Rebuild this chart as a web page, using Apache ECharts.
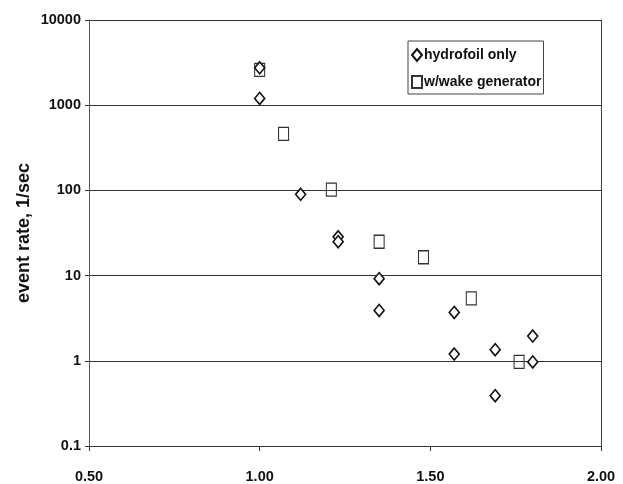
<!DOCTYPE html>
<html>
<head>
<meta charset="utf-8">
<script src="https://cdn.jsdelivr.net/npm/echarts@6/dist/echarts.min.js"></script>
<style>
  html, body { margin: 0; padding: 0; background: #fff; }
  #chart { width: 623px; height: 484px; }
</style>
</head>
<body>
<div id="chart"></div>
<script>
// Event rate measurements (x: ratio, y: events per second)
const hydrofoilX = [1.00, 1.00, 1.12, 1.23, 1.23, 1.35, 1.35, 1.57, 1.57, 1.69, 1.69, 1.80, 1.80];
const hydrofoilY = [2750, 1200, 90, 28.5, 25, 9.2, 3.9, 3.7, 1.2, 1.35, 0.39, 1.95, 0.97];

const wakeX = [1.00, 1.07, 1.21, 1.35, 1.48, 1.62, 1.76];
const wakeY = [2600, 460, 102, 25, 16.4, 5.4, 0.97];

const seriesNames = ['hydrofoil only', 'w/wake generator'];
const xTicks = [0.5, 1.0, 1.5, 2.0];
const yTicks = [0.1, 1, 10, 100, 1000, 10000];

const pairs = (xs, ys) => xs.map((x, i) => [x, ys[i]]);

const tickFont = {
  fontFamily: '"Liberation Sans", Arial, sans-serif',
  fontWeight: 'bold',
  fontSize: 14.5,
  color: '#111'
};

const chart = echarts.init(document.getElementById('chart'), null, { renderer: 'canvas' });

chart.setOption({
  backgroundColor: '#fff',
  animation: false,
  grid: { left: 89, right: 22, top: 20, bottom: 38, show: false },
  legend: {
    orient: 'vertical',
    left: 408,
    top: 41,
    padding: [7, 2, 5, 3],
    itemGap: 13,
    itemWidth: 10,
    itemHeight: 12,
    borderColor: '#444',
    borderWidth: 1,
    textStyle: {
      fontFamily: '"Liberation Sans", Arial, sans-serif',
      fontWeight: 'bold',
      fontSize: 14,
      lineHeight: 14,
      color: '#111',
      padding: [0, 0, 0, -3]
    },
    data: seriesNames
  },
  xAxis: {
    type: 'value',
    min: xTicks[0],
    max: xTicks[xTicks.length - 1],
    interval: 0.5,
    axisLine: { show: true, onZero: false, lineStyle: { color: '#333', width: 1 } },
    axisTick: { show: true, length: 5, lineStyle: { color: '#333' } },
    splitLine: { show: false },
    axisLabel: Object.assign({ margin: 23, formatter: v => v.toFixed(2) }, tickFont)
  },
  yAxis: [{
    type: 'log',
    logBase: 10,
    min: yTicks[0],
    max: yTicks[yTicks.length - 1],
    name: 'event rate, 1/sec',
    nameLocation: 'middle',
    nameGap: 56,
    nameMoveOverlap: false,
    nameTextStyle: {
      fontFamily: '"Liberation Sans", Arial, sans-serif',
      fontWeight: 'bold',
      fontSize: 18,
      color: '#111'
    },
    axisLine: { show: true, lineStyle: { color: '#555', width: 1 } },
    axisTick: { show: true, length: 4, lineStyle: { color: '#333' } },
    splitLine: { show: true, lineStyle: { color: '#333', width: 1 } },
    axisLabel: Object.assign({
      margin: 8,
      formatter: v => {
        const t = yTicks.find(k => Math.abs(Math.log10(k) - Math.log10(v)) < 1e-6);
        return t === undefined ? '' : String(t);
      }
    }, tickFont)
  }, {
    // right-hand frame edge
    type: 'log',
    logBase: 10,
    min: yTicks[0],
    max: yTicks[yTicks.length - 1],
    position: 'right',
    axisLine: { show: true, lineStyle: { color: '#444', width: 1 } },
    axisTick: { show: false },
    axisLabel: { show: false },
    splitLine: { show: false }
  }],
  series: [{
    name: seriesNames[0],
    type: 'scatter',
    symbol: 'diamond',
    symbolSize: [10, 12],
    itemStyle: { color: '#fff', borderColor: '#111', borderWidth: 1.6, opacity: 1 },
    data: pairs(hydrofoilX, hydrofoilY),
    z: 3
  }, {
    name: seriesNames[1],
    type: 'scatter',
    symbol: 'rect',
    symbolSize: [10, 13],
    itemStyle: { color: 'rgba(255,255,255,0)', borderColor: '#333', borderWidth: 1.2, opacity: 1 },
    data: pairs(wakeX, wakeY),
    z: 2
  }]
});
</script>
</body>
</html>
